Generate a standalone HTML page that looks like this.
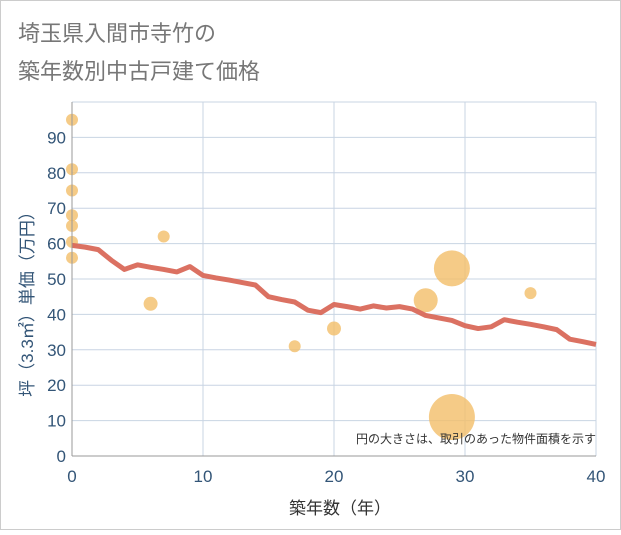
<!DOCTYPE html>
<html><head><meta charset="utf-8"><style>
html,body{margin:0;padding:0;background:#fff;}
#wrap{position:relative;width:621px;height:530px;font-family:"Liberation Sans","Noto Sans CJK JP",sans-serif;}
</style></head><body>
<div id="wrap">
<svg id="chart" width="621" height="530">
<rect x="0.5" y="0.5" width="620" height="529" fill="#fff" stroke="#ccc"/>
<text x="18" y="41" font-size="22" fill="#777">埼玉県入間市寺竹の</text>
<text x="18" y="79" font-size="22" fill="#777">築年数別中古戸建て価格</text>
<g id="grid"></g>
<g id="bubbles"></g>
<g id="line"></g>
<g id="axes"></g>
<text x="596" y="443" font-size="12" fill="#333" text-anchor="end">円の大きさは、取引のあった物件面積を示す</text>
<text x="340" y="514" font-size="17" fill="#333" text-anchor="middle">築年数（年）</text>
<text transform="translate(33,300) rotate(-90)" font-size="17" fill="#335577" text-anchor="middle">坪（3.3㎡）単価（万円）</text>
</svg>
</div>
<script>
const xTicks=[0,10,20,30,40];
const yTicks=[0,10,20,30,40,50,60,70,80,90];
const lineYears=[0,1,2,3,4,5,6,7,8,9,10,11,12,13,14,15,16,17,18,19,20,21,22,23,24,25,26,27,28,29,30,31,32,33,34,35,36,37,38,39,40];
const lineValues=[59.5,59,58.3,55.3,52.7,54,53.3,52.7,52,53.5,51,50.3,49.7,49,48.3,45,44.2,43.5,41.2,40.5,42.8,42.2,41.5,42.4,41.8,42.2,41.5,39.7,39,38.3,36.8,36,36.5,38.5,37.8,37.2,36.5,35.7,33,32.3,31.5];
const bubbleX=[0,0,0,0,0,0,0,7,6,17,20,27,29,29,35];
const bubbleY=[95,81,75,68,65,60.5,56,62,43,31,36,44,53,11,46];
const bubbleR=[6,6,6,6,6,6,6,6,7,6,7,12,18,23,6];
const NS="http://www.w3.org/2000/svg";
const X0=72,X1=596,Y0=456,YT=102;
const sx=v=>X0+(X1-X0)*v/40;
const sy=v=>Y0-(Y0-YT)*v/100;
function mk(tag,attrs,parent){const e=document.createElementNS(NS,tag);for(const k in attrs)e.setAttribute(k,attrs[k]);parent.appendChild(e);return e;}
const grid=document.getElementById('grid');
yTicks.concat([100]).forEach(t=>{const l=mk('line',{x1:X0,x2:X1,y1:sy(t),y2:sy(t),stroke:'#c8d4e3','stroke-width':1},grid);

});
xTicks.forEach(t=>{const l=mk('line',{x1:sx(t),x2:sx(t),y1:YT,y2:Y0,stroke:'#c8d4e3','stroke-width':1},grid);

});
const bg=document.getElementById('bubbles');
bubbleX.forEach((x,i)=>{const c=mk('circle',{cx:sx(x),cy:sy(bubbleY[i]),r:bubbleR[i],fill:'rgba(242,190,105,0.8)'},bg);

});
const lg=document.getElementById('line');
const p=mk('polyline',{points:lineYears.map((y,i)=>sx(y)+','+sy(lineValues[i])).join(' '),fill:'none',stroke:'#d9695a','stroke-width':5,'stroke-linejoin':'round','stroke-opacity':0.95},lg);


const ax=document.getElementById('axes');
const a1=mk('line',{x1:X0,x2:X0,y1:YT,y2:Y0,stroke:'#999','stroke-width':1},ax);


const a2=mk('line',{x1:X0,x2:X1,y1:Y0,y2:Y0,stroke:'#999','stroke-width':1},ax);


yTicks.forEach(t=>{const tx=mk('text',{x:X0-6,y:sy(t)+6,'font-size':17,fill:'#335577','text-anchor':'end'},ax);tx.textContent=t;

});
xTicks.forEach(t=>{const tx=mk('text',{x:sx(t),y:482,'font-size':17,fill:'#335577','text-anchor':'middle'},ax);tx.textContent=t;

});
</script>
</body></html>
